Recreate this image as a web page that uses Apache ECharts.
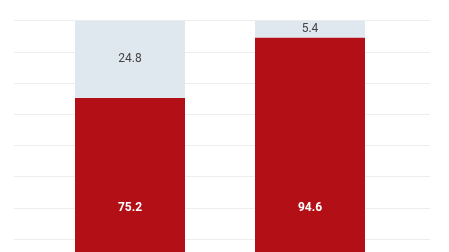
<!DOCTYPE html>
<html>
<head>
<meta charset="utf-8">
<script src="https://cdn.jsdelivr.net/npm/echarts@6/dist/echarts.min.js"></script>
<style>html,body{margin:0;padding:0;background:#fff}#c{width:449px;height:252px}</style>
</head>
<body>
<div id="c"></div>
<script>
const categories = ['Group 1', 'Group 2'];
const redValues = [75.2, 94.6];
const lightValues = [24.8, 5.4];
const yTicks = [0, 10, 20, 30, 40, 50, 60, 70, 80, 90, 100];

const chart = echarts.init(document.getElementById('c'), null, {renderer: 'canvas'});
const gridTop = 20.7, gridHeight = 312;
chart.setOption({
  animation: false,
  grid: [
    {left: 40, right: 49, top: gridTop, height: gridHeight, containLabel: false, outerBoundsMode: 'none'},
    {left: 14, right: 19, top: gridTop, height: gridHeight, containLabel: false, outerBoundsMode: 'none'}
  ],
  xAxis: [
    {type: 'category', gridIndex: 0, data: categories, show: false},
    {type: 'category', gridIndex: 1, data: categories, show: false}
  ],
  yAxis: [
    {type: 'value', gridIndex: 0, min: yTicks[0], max: yTicks[yTicks.length-1], interval: 10, show: false},
    {type: 'value', gridIndex: 1, min: yTicks[0], max: yTicks[yTicks.length-1], interval: 10,
     axisLine: {show: false}, axisTick: {show: false}, axisLabel: {show: false},
     splitLine: {show: true, lineStyle: {color: '#eeeeee', width: 1}}, z: 0}
  ],
  series: [
    {
      type: 'bar', xAxisIndex: 0, yAxisIndex: 0, stack: 's', data: redValues, barWidth: 110,
      itemStyle: {color: '#b20f16'}, z: 5,
      label: {show: true, position: 'insideBottom', distance: 119, color: '#ffffff', fontWeight: 'bold',
              fontSize: 12, fontFamily: 'Roboto', formatter: p => p.value.toFixed(1)}
    },
    {
      type: 'bar', xAxisIndex: 0, yAxisIndex: 0, stack: 's', data: lightValues, barWidth: 110,
      itemStyle: {color: '#dfe7ef'}, z: 5,
      label: {show: true, position: 'inside', color: '#444444',
              fontSize: 12, fontFamily: 'Roboto', formatter: p => p.value.toFixed(1)}
    }
  ]
});
</script>
</body>
</html>
